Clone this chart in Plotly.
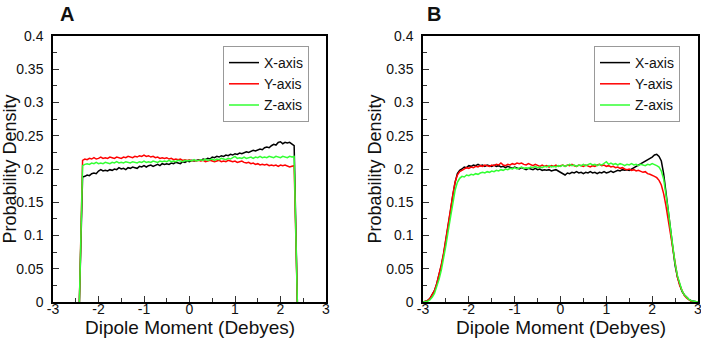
import numpy as np
import plotly.graph_objects as go

# ---------------- data ----------------
series_names = ["X-axis", "Y-axis", "Z-axis"]
series_colors = ["#000000", "#ff0000", "#33ff33"]

# Panel A: plateau values from x = -2.35 to 2.30 in steps of 0.05, with zero edges
a_x_start = -2.35
a_step = 0.05
a_left_edge = -2.42
a_right_edge = 2.37
a_x_axis = [0.188, 0.189, 0.191, 0.190, 0.193, 0.194, 0.193, 0.197, 0.199, 0.197,
            0.198, 0.197, 0.199, 0.198, 0.200, 0.199, 0.202, 0.200, 0.201, 0.199,
            0.202, 0.201, 0.203, 0.202, 0.201, 0.204, 0.203, 0.205, 0.203, 0.205,
            0.206, 0.204, 0.206, 0.207, 0.205, 0.208, 0.207, 0.208, 0.207, 0.209,
            0.208, 0.210, 0.209, 0.208, 0.211, 0.210, 0.212, 0.211, 0.213, 0.212,
            0.213, 0.214, 0.213, 0.215, 0.214, 0.216, 0.215, 0.218, 0.217, 0.219,
            0.218, 0.220, 0.219, 0.221, 0.220, 0.222, 0.221, 0.223, 0.222, 0.224,
            0.223, 0.225, 0.226, 0.225, 0.227, 0.228, 0.227, 0.229, 0.230, 0.229,
            0.232, 0.233, 0.232, 0.235, 0.237, 0.236, 0.240, 0.241, 0.238, 0.240,
            0.239, 0.240, 0.238, 0.235]
a_y_axis = [0.213, 0.215, 0.214, 0.216, 0.215, 0.217, 0.215, 0.216, 0.218, 0.216,
            0.217, 0.216, 0.218, 0.217, 0.216, 0.218, 0.217, 0.216, 0.218, 0.217,
            0.219, 0.218, 0.217, 0.219, 0.218, 0.220, 0.219, 0.221, 0.219, 0.220,
            0.218, 0.219, 0.217, 0.218, 0.216, 0.217, 0.216, 0.217, 0.215, 0.216,
            0.214, 0.215, 0.214, 0.215, 0.213, 0.214, 0.213, 0.214, 0.212, 0.213,
            0.212, 0.213, 0.212, 0.213, 0.211, 0.212, 0.213, 0.212, 0.211, 0.212,
            0.213, 0.211, 0.212, 0.211, 0.213, 0.212, 0.211, 0.212, 0.210, 0.211,
            0.212, 0.210, 0.209, 0.210, 0.208, 0.209, 0.207, 0.208, 0.206, 0.207,
            0.206, 0.207, 0.205, 0.206, 0.205, 0.206, 0.204, 0.206, 0.205, 0.206,
            0.204, 0.203, 0.204, 0.205]
a_z_axis = [0.205, 0.207, 0.208, 0.207, 0.209, 0.208, 0.210, 0.208, 0.209, 0.208,
            0.210, 0.209, 0.208, 0.210, 0.209, 0.211, 0.209, 0.210, 0.209, 0.211,
            0.210, 0.209, 0.211, 0.210, 0.209, 0.211, 0.210, 0.212, 0.210, 0.211,
            0.210, 0.212, 0.211, 0.210, 0.212, 0.211, 0.212, 0.211, 0.213, 0.211,
            0.212, 0.211, 0.213, 0.212, 0.211, 0.213, 0.212, 0.213, 0.212, 0.214,
            0.212, 0.213, 0.214, 0.213, 0.215, 0.213, 0.214, 0.215, 0.213, 0.215,
            0.214, 0.216, 0.215, 0.214, 0.216, 0.215, 0.217, 0.219, 0.216, 0.217,
            0.216, 0.218, 0.216, 0.217, 0.218, 0.216, 0.218, 0.217, 0.219, 0.217,
            0.218, 0.217, 0.219, 0.218, 0.217, 0.219, 0.218, 0.217, 0.219, 0.218,
            0.217, 0.219, 0.218, 0.219]

# Panel B: x = -3.00 to 3.00 in steps of 0.05
b_x_start = -3.0
b_step = 0.05
b_x_axis = [0.000, 0.001, 0.002, 0.005, 0.010, 0.017, 0.027, 0.040, 0.055, 0.072,
            0.092, 0.114, 0.137, 0.160, 0.180, 0.193, 0.198, 0.200, 0.203, 0.202,
            0.205, 0.204, 0.206, 0.205, 0.207, 0.205, 0.206, 0.204, 0.206, 0.205,
            0.204, 0.206, 0.204, 0.205, 0.203, 0.204, 0.202, 0.204, 0.203, 0.201,
            0.203, 0.202, 0.200, 0.202, 0.201, 0.199, 0.201, 0.200, 0.199, 0.201,
            0.199, 0.200, 0.198, 0.199, 0.198, 0.199, 0.197, 0.198, 0.199, 0.197,
            0.195, 0.193, 0.191, 0.194, 0.193, 0.195, 0.194, 0.196, 0.194, 0.195,
            0.193, 0.195, 0.194, 0.196, 0.194, 0.195, 0.193, 0.195, 0.194, 0.196,
            0.194, 0.195, 0.197, 0.195, 0.196, 0.198, 0.197, 0.199, 0.198, 0.199,
            0.198, 0.200, 0.201, 0.203, 0.206, 0.207, 0.209, 0.211, 0.213, 0.215,
            0.218, 0.221, 0.222, 0.219, 0.212, 0.193, 0.168, 0.140, 0.110, 0.082,
            0.055, 0.038, 0.025, 0.016, 0.011, 0.007, 0.004, 0.002, 0.001, 0.000,
            0.000]
b_y_axis = [0.000, 0.001, 0.002, 0.005, 0.010, 0.017, 0.028, 0.041, 0.056, 0.074,
            0.094, 0.116, 0.139, 0.161, 0.180, 0.191, 0.196, 0.198, 0.200, 0.202,
            0.201, 0.203, 0.202, 0.204, 0.203, 0.205, 0.204, 0.206, 0.205, 0.204,
            0.206, 0.205, 0.207, 0.206, 0.209, 0.206, 0.205, 0.207, 0.206, 0.208,
            0.207, 0.209, 0.208, 0.209, 0.207, 0.206, 0.208, 0.206, 0.205, 0.207,
            0.205, 0.204, 0.206, 0.204, 0.205, 0.203, 0.205, 0.204, 0.206, 0.204,
            0.205, 0.206, 0.204, 0.206, 0.205, 0.207, 0.205, 0.204, 0.206, 0.205,
            0.204, 0.206, 0.205, 0.203, 0.205, 0.204, 0.206, 0.207, 0.205, 0.206,
            0.204, 0.205, 0.203, 0.204, 0.202, 0.203, 0.201, 0.202, 0.200, 0.199,
            0.200, 0.198, 0.199, 0.197, 0.198, 0.196, 0.195, 0.196, 0.193, 0.192,
            0.191, 0.189, 0.187, 0.183, 0.176, 0.163, 0.145, 0.124, 0.100, 0.076,
            0.055, 0.038, 0.025, 0.016, 0.010, 0.006, 0.003, 0.001, 0.000, 0.000,
            0.000]
b_z_axis = [0.000, 0.000, 0.001, 0.003, 0.007, 0.013, 0.022, 0.034, 0.048, 0.065,
            0.085, 0.107, 0.129, 0.150, 0.168, 0.180, 0.186, 0.189, 0.188, 0.191,
            0.190, 0.192, 0.191, 0.193, 0.192, 0.194, 0.195, 0.194, 0.196, 0.195,
            0.197, 0.196, 0.198, 0.197, 0.199, 0.198, 0.200, 0.199, 0.201, 0.200,
            0.202, 0.200, 0.201, 0.203, 0.201, 0.202, 0.201, 0.203, 0.202, 0.204,
            0.202, 0.203, 0.202, 0.204, 0.203, 0.205, 0.203, 0.204, 0.203, 0.205,
            0.204, 0.206, 0.204, 0.205, 0.207, 0.205, 0.206, 0.204, 0.206, 0.205,
            0.207, 0.205, 0.206, 0.208, 0.206, 0.207, 0.205, 0.207, 0.206, 0.208,
            0.211, 0.207, 0.209, 0.207, 0.208, 0.206, 0.208, 0.207, 0.205, 0.207,
            0.206, 0.208, 0.206, 0.207, 0.205, 0.207, 0.206, 0.205, 0.207, 0.206,
            0.208, 0.207, 0.205, 0.203, 0.197, 0.185, 0.163, 0.138, 0.110, 0.083,
            0.058, 0.040, 0.027, 0.017, 0.011, 0.007, 0.004, 0.002, 0.001, 0.000,
            0.000]

x_tick_vals = [-3, -2, -1, 0, 1, 2, 3]
x_tick_text = ["-3", "-2", "-1", "0", "1", "2", "3"]
y_tick_vals = [0, 0.05, 0.1, 0.15, 0.2, 0.25, 0.3, 0.35, 0.4]
y_tick_text = ["0", "0.05", "0.1", "0.15", "0.2", "0.25", "0.3", "0.35", "0.4"]
panel_labels = ["A", "B"]
x_title = "Dipole Moment (Debyes)"
y_title = "Probability Density"

# ---------------- build ----------------
FONT = "Liberation Sans, Arial, Helvetica, sans-serif"
fig = go.Figure()

def a_series(vals):
    xs = list(np.round(a_x_start + a_step * np.arange(len(vals)), 3))
    return [a_left_edge] + xs + [a_right_edge], [0.0] + list(vals) + [0.0]

def b_series(vals):
    xs = list(np.round(b_x_start + b_step * np.arange(len(vals)), 3))
    return xs, list(vals)

for name, col, vals in zip(series_names, series_colors, [a_x_axis, a_y_axis, a_z_axis]):
    xs, ys = a_series(vals)
    fig.add_trace(go.Scatter(x=xs, y=ys, mode="lines", name=name,
                             line=dict(color=col, width=1.5),
                             xaxis="x", yaxis="y", legend="legend"))
for name, col, vals in zip(series_names, series_colors, [b_x_axis, b_y_axis, b_z_axis]):
    xs, ys = b_series(vals)
    fig.add_trace(go.Scatter(x=xs, y=ys, mode="lines", name=name,
                             line=dict(color=col, width=1.5),
                             xaxis="x2", yaxis="y2", legend="legend2"))

W, H = 701, 338
ydom = [(H - 302) / H, (H - 36) / H]
xdomA = [53 / W, 326 / W]
xdomB = [423 / W, 698 / W]

def xaxis(dom, anchor):
    return dict(domain=dom, anchor=anchor, range=[-3, 3], tickvals=x_tick_vals, ticktext=x_tick_text,
                ticks="inside", ticklen=6, tickwidth=1, tickcolor="#333",
                minor=dict(dtick=0.5, tick0=0, ticks="inside", ticklen=4, tickcolor="#333"),
                showline=True, mirror=True, linecolor="black", linewidth=1.5,
                showgrid=False, zeroline=False, automargin=False,
                ticklabeloverflow="allow", ticklabelstandoff=-7,
                tickfont=dict(size=14, color="#111", family=FONT))

def yaxis(dom, anchor):
    return dict(domain=dom, anchor=anchor, range=[0, 0.4], tickvals=y_tick_vals, ticktext=y_tick_text,
                ticks="inside", ticklen=6, tickwidth=1, tickcolor="#333",
                minor=dict(dtick=0.025, tick0=0, ticks="inside", ticklen=4, tickcolor="#333"),
                showline=True, mirror=True, linecolor="black", linewidth=1.5,
                showgrid=False, zeroline=False, automargin=False,
                ticklabeloverflow="allow", ticklabelstandoff=5,
                tickfont=dict(size=14, color="#111", family=FONT),
                title=dict(text=y_title, font=dict(size=18, color="#111", family=FONT), standoff=0))

def legend(xr):
    return dict(x=xr, y=(H - 46) / H, xanchor="right", yanchor="top",
                bgcolor="white", bordercolor="#999", borderwidth=1,
                font=dict(size=14, color="#111", family=FONT),
                tracegroupgap=0, itemwidth=30)

def label(text, xc, ytop, size, bold=False):
    return dict(text=("<b>%s</b>" % text) if bold else text, x=xc / W, y=(H - ytop) / H,
                xref="paper", yref="paper", xanchor="center", yanchor="top",
                showarrow=False, font=dict(size=size, color="#111", family=FONT))

fig.update_layout(
    width=W, height=H, margin=dict(l=0, r=0, t=0, b=0),
    paper_bgcolor="white", plot_bgcolor="white",
    font=dict(family=FONT),
    xaxis=xaxis(xdomA, "y"), yaxis=yaxis(ydom, "x"),
    xaxis2=xaxis(xdomB, "y2"), yaxis2=yaxis(ydom, "x2"),
    legend=legend(309 / W), legend2=legend(680 / W),
    showlegend=True,
    annotations=[
        label(panel_labels[0], 67, 1, 20, bold=True),
        label(panel_labels[1], 434, 1, 20, bold=True),
        label(x_title, (53 + 326) / 2, 315, 19),
        label(x_title, (423 + 698) / 2, 315, 19),
    ],
)

fig.write_html("out.html")
